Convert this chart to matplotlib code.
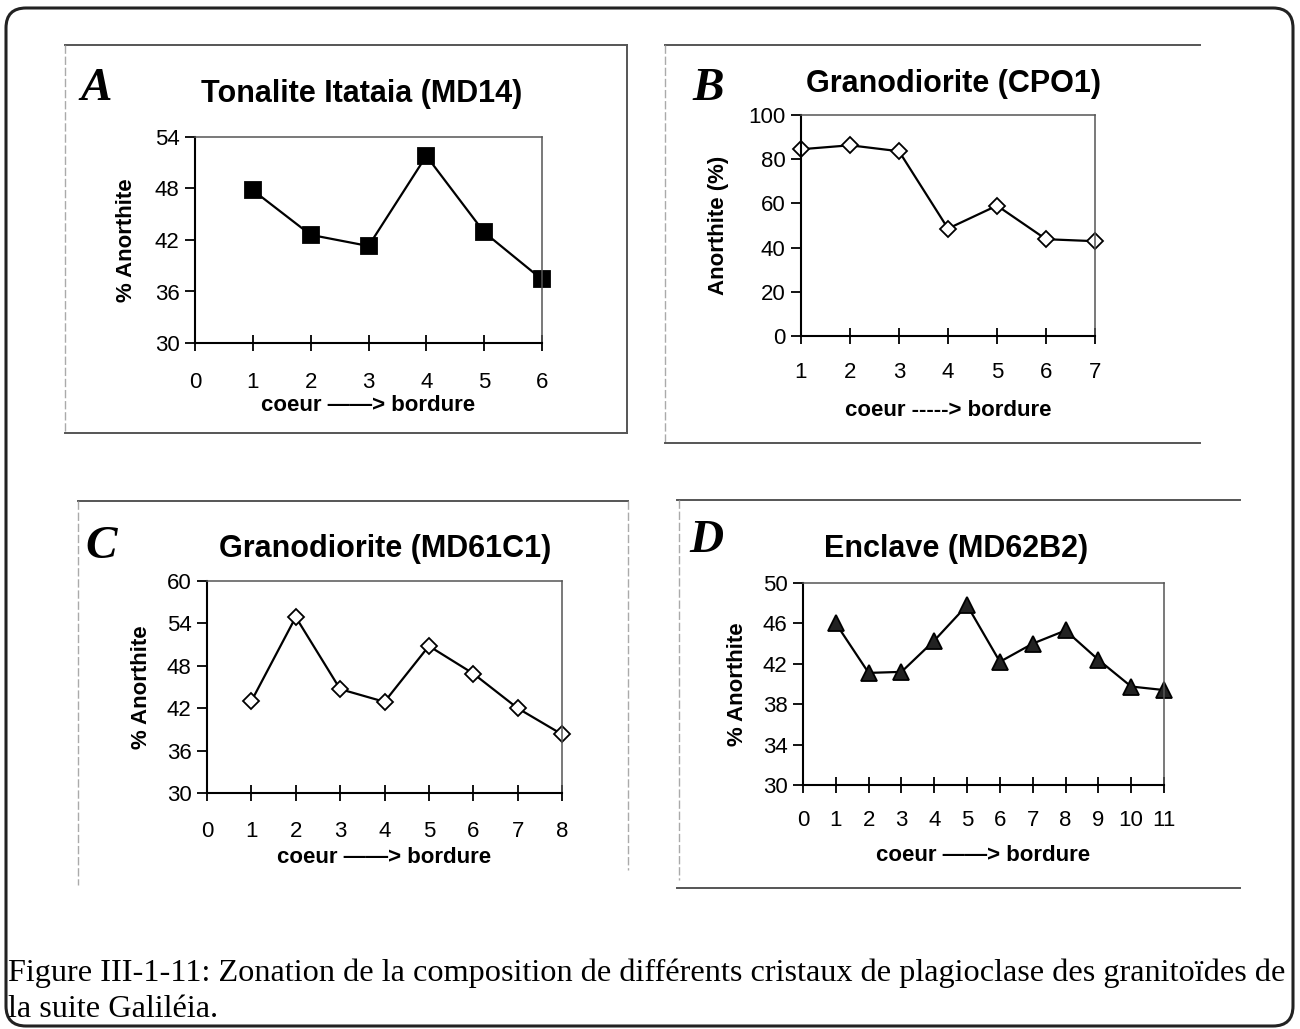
import matplotlib
matplotlib.use("Agg")
import matplotlib.pyplot as plt
from matplotlib.patches import FancyBboxPatch

# ====================================================================
# DATA
# ====================================================================
a_x = [1, 2, 3, 4, 5, 6]
a_y = [47.8, 42.6, 41.3, 51.8, 42.9, 37.4]

b_x = [1, 2, 3, 4, 5, 6, 7]
b_y = [84.5, 86.3, 83.6, 48.6, 59.0, 43.8, 42.9]

c_x = [1, 2, 3, 4, 5, 6, 7, 8]
c_y = [43.0, 54.9, 44.7, 42.9, 50.8, 46.9, 42.0, 38.3]

d_x = [1, 2, 3, 4, 5, 6, 7, 8, 9, 10, 11]
d_y = [46.0, 41.1, 41.2, 44.3, 47.8, 42.2, 44.0, 45.3, 42.4, 39.75, 39.4]

a_yticks = [30, 36, 42, 48, 54]
b_yticks = [0, 20, 40, 60, 80, 100]
c_yticks = [30, 36, 42, 48, 54, 60]
d_yticks = [30, 34, 38, 42, 46, 50]

titles = ["Tonalite Itataia (MD14)", "Granodiorite (CPO1)",
          "Granodiorite (MD61C1)", "Enclave (MD62B2)"]
letters = ["A", "B", "C", "D"]
caption = ["Figure III-1-11: Zonation de la composition de différents cristaux "
           "de plagioclase des granitoïdes de",
           "la suite Galiléia."]

# ====================================================================
# FIGURE SETUP (pixel based layout)
# ====================================================================
W, H = 1300, 1029
fig = plt.figure(figsize=(W / 100, H / 100), dpi=100)
SANS = "Liberation Sans"
SERIF = "Liberation Serif"


def rect(x0, y0, x1, y1):
    # pixel box (top-left origin) -> figure fraction
    return [x0 / W, 1 - y1 / H, (x1 - x0) / W, (y1 - y0) / H]


bg = fig.add_axes([0, 0, 1, 1], zorder=0)
bg.set_xlim(0, W)
bg.set_ylim(H, 0)
bg.axis("off")

# outer rounded frame
bg.add_patch(FancyBboxPatch((6, 8), 1287, 1018,
                            boxstyle="round,pad=0,rounding_size=20",
                            fill=False, lw=2.2, ec="#222222"))

# panel frames (scanned, partly faint)
dark = dict(color="#555555", lw=1.4)
faint = dict(color="#aaaaaa", lw=1.0, ls=(0, (6, 2)))
bg.plot([65, 627], [45, 45], **dark)
bg.plot([627, 627], [45, 433], **dark)
bg.plot([65, 627], [433, 433], **dark)
bg.plot([65, 65], [45, 433], **faint)

bg.plot([665, 1200], [45, 45], **dark)
bg.plot([665, 665], [45, 443], **faint)
bg.plot([665, 1200], [443, 443], **dark)

bg.plot([78, 628], [501, 501], **dark)
bg.plot([78, 78], [501, 885], **faint)
bg.plot([628, 628], [501, 870], **faint)

bg.plot([677, 1240], [500, 500], **dark)
bg.plot([679, 679], [500, 880], **faint)
bg.plot([677, 1240], [888, 888], **dark)


def panel(box, xs, ys, xlim, yticks, marker, mfc, ms, ylabel, xlabel,
          xpad, xlabelpad, ylabelpad):
    ax = fig.add_axes(rect(*box), zorder=2)
    ax.plot(xs, ys, color="black", lw=1.6, marker=marker, ms=ms,
            mfc=mfc, mec="black", mew=1.3, clip_on=False)
    ax.set_xlim(*xlim)
    ax.set_xticks(range(xlim[0], xlim[1] + 1))
    ax.set_ylim(yticks[0], yticks[-1])
    ax.set_yticks(yticks)
    for s in ["top", "right"]:
        ax.spines[s].set_color("#555555")
        ax.spines[s].set_linewidth(1.1)
    for s in ["left", "bottom"]:
        ax.spines[s].set_color("black")
        ax.spines[s].set_linewidth(1.5)
    ax.tick_params(axis="x", direction="inout", length=12, width=1.3,
                   pad=xpad, labelsize=16)
    ax.tick_params(axis="y", direction="out", length=7, width=1.3,
                   pad=4, labelsize=16)
    for lab in ax.get_xticklabels() + ax.get_yticklabels():
        lab.set_fontfamily(SANS)
    ax.set_ylabel(ylabel, fontsize=16, fontweight="bold", family=SANS,
                  labelpad=ylabelpad)
    ax.set_xlabel(xlabel, fontsize=16, fontweight="bold", family=SANS,
                  labelpad=xlabelpad)
    return ax


panel((195, 137, 542, 343), a_x, a_y, (0, 6), a_yticks, "s", "black", 11.5,
      "% Anorthite", "coeur \u2014\u2014> bordure", 15, 1, 13)
panel((801, 115, 1095, 336), b_x, b_y, (1, 7), b_yticks, "D", "white", 8,
      "Anorthite (%)", "coeur -----> bordure", 13, 12, 14)
panel((207, 581, 562, 793), c_x, c_y, (0, 8), c_yticks, "D", "white", 8.5,
      "% Anorthite", "coeur \u2014\u2014> bordure", 14, 4, 11)
panel((803, 583, 1164, 785), d_x, d_y, (0, 11), d_yticks, "^", "#222222", 11,
      "% Anorthite", "coeur \u2014\u2014> bordure", 12, 10, 11)

# titles and panel letters
title_pos = [(362, 102), (953, 92), (385, 557), (956, 557)]
letter_pos = [(96, 100), (708, 100), (101, 558), (706, 552)]
for t, (x, y) in zip(titles, title_pos):
    bg.text(x, y, t, ha="center", va="baseline", fontsize=22,
            fontweight="bold", family=SANS)
for l, (x, y) in zip(letters, letter_pos):
    bg.text(x, y, l, ha="center", va="baseline", fontsize=34,
            fontweight="bold", style="italic", family=SERIF)

# caption
bg.text(8, 981, caption[0], ha="left", va="baseline", fontsize=23.2, family=SERIF)
bg.text(8, 1017, caption[1], ha="left", va="baseline", fontsize=23.2, family=SERIF)

fig.savefig("out.png", dpi=100)
plt.close(fig)
